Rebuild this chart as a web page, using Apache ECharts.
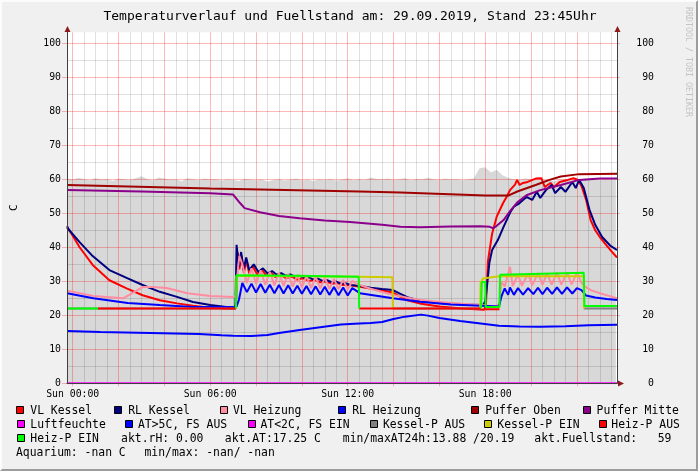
<!DOCTYPE html>
<html>
<head>
<meta charset="utf-8">
<script src="https://cdn.jsdelivr.net/npm/echarts/dist/echarts.min.js"></script>
<style>
html,body{margin:0;padding:0;background:#f0f0f0;}
#wrap{position:relative;width:698px;height:471px;}
#chart{position:absolute;left:0;top:0;width:698px;height:471px;}
#frame{position:absolute;left:0;top:0;width:694px;height:467px;border-top:2px solid #fcfcfc;border-left:2px solid #fcfcfc;border-right:2px solid #9c9c9c;border-bottom:2px solid #9c9c9c;pointer-events:none;}
</style>
</head>
<body>
<div id="wrap"><div id="chart"></div><div id="frame"></div></div>
<script>
// ---------------- DATA (time in hours of 29.09.2019, value) ----------------
const titleText = 'Temperaturverlauf und Fuellstand am: 29.09.2019, Stand 23:45Uhr';
const xTickHours = [0, 6, 12, 18];
const xTickDay = 'Sun';
const yUnit = 'C';

const fuellstand = [[-0.25,60.2],[0,59.9],[0.25,60.4],[0.5,60.0],[0.75,59.7],[1,60.3],[1.25,59.9],[1.5,60.1],[1.75,59.5],[2,60.2],[2.25,60.0],[2.5,59.8],[2.75,60.3],[3,60.9],[3.25,60.1],[3.5,59.6],[3.75,60.5],[4,60.2],[4.25,59.9],[4.5,60.0],[4.75,59.4],[5,60.3],[5.25,60.0],[5.5,59.7],[5.75,60.2],[6,59.9],[6.25,60.1],[6.5,59.6],[6.75,60.0],[7,59.8],[7.25,59.5],[7.5,60.1],[7.75,59.9],[8,59.7],[8.25,60.0],[8.5,59.3],[8.75,59.8],[9,60.0],[9.25,59.6],[9.5,59.9],[9.75,60.2],[10,59.7],[10.25,59.9],[10.5,59.5],[10.75,60.0],[11,59.8],[11.25,60.1],[11.5,59.6],[11.75,59.9],[12,60.3],[12.25,59.7],[12.5,60.0],[12.75,59.8],[13,60.5],[13.25,60.1],[13.5,59.9],[13.75,60.2],[14,59.8],[14.25,60.0],[14.5,60.3],[14.75,59.7],[15,60.1],[15.25,59.9],[15.5,60.4],[15.75,60.0],[16,59.8],[16.25,60.2],[16.5,59.9],[16.75,60.1],[17,59.7],[17.25,60.0],[17.5,60.2],[17.75,63.2],[18,63.5],[18.25,62.0],[18.5,62.8],[18.75,61.2],[19,60.4],[19.25,60.0],[19.5,59.8],[19.75,60.2],[20,59.9],[20.25,60.1],[20.5,59.6],[20.75,60.0],[21,59.3],[21.25,59.9],[21.5,60.1],[21.75,59.7],[22,60.0],[22.25,59.8],[22.5,60.2],[22.75,59.9],[23,59.7],[23.25,60.0],[23.5,59.8],[23.7,59.9]];

const vlKessel = [[-0.25,45.8],[-0.1,44.5],[0.3,40.0],[0.87,34.8],[1.6,30.3],[2.35,27.9],[3.05,25.9],[3.8,24.4],[4.55,23.5],[5.25,22.8],[6.0,22.2],[7.0,21.9],[7.1,22.0],[7.13,24],[7.2,38.5],[7.27,33.5],[7.37,37.5],[7.47,32.5],[7.58,36.2],[7.7,32.3],[7.85,34.5],[8.05,32.0],[8.25,33.5],[8.45,31.6],[8.65,32.6],[8.85,31.2],[9.05,32.0],[9.3,30.9],[9.55,31.4],[9.8,30.5],[10.05,30.9],[10.3,30.1],[10.55,30.4],[10.8,29.7],[11.05,29.9],[11.3,29.3],[11.55,29.5],[11.8,28.9],[12.05,29.0],[12.3,28.6],[12.53,28.4],[13.0,27.9],[13.5,27.3],[13.97,26.7],[14.3,25.4],[14.6,24.4],[15.2,23.4],[16.0,22.6],[17.0,22.0],[17.95,21.6],[18.03,23],[18.12,36],[18.3,44],[18.5,49],[18.78,53],[18.95,55],[19.08,56.8],[19.3,58.4],[19.39,59.8],[19.5,58.3],[19.65,58.9],[19.85,59.2],[20.2,60.2],[20.45,60.3],[20.6,57.7],[20.85,58.9],[21.0,57.7],[21.25,59.2],[21.6,59.8],[21.85,60.3],[22.05,59.8],[22.2,58],[22.4,54],[22.6,48],[22.8,45],[23.0,43],[23.3,40.5],[23.55,38.5],[23.75,37.0]];

const rlKessel = [[-0.25,46.2],[-0.15,45],[0.3,41.5],[0.87,37.4],[1.6,33.3],[2.35,31.0],[3.05,28.9],[3.8,26.9],[4.55,25.4],[5.25,23.9],[6.0,23.0],[6.7,22.4],[7.0,22.1],[7.1,22.3],[7.15,40.7],[7.25,34.2],[7.35,38.6],[7.45,33.3],[7.57,37.0],[7.7,33.3],[7.9,35.0],[8.1,32.7],[8.3,33.8],[8.5,32.3],[8.7,33.0],[8.9,31.9],[9.1,32.4],[9.3,31.6],[9.5,32.0],[9.7,31.3],[9.9,31.6],[10.1,31.0],[10.3,31.2],[10.5,30.5],[10.7,30.8],[10.9,30.1],[11.1,30.3],[11.3,29.7],[11.5,29.9],[11.7,29.3],[11.9,29.4],[12.1,28.9],[12.5,28.7],[13.0,28.1],[13.5,27.7],[13.97,27.4],[14.3,26.3],[14.6,25.3],[15.2,24.2],[16.0,23.6],[17.0,23.2],[17.9,23.0],[18.0,24.0],[18.1,30],[18.18,35.4],[18.3,39.2],[18.55,42.1],[18.8,46],[19.1,50.4],[19.25,51.9],[19.5,53],[19.8,54.8],[20.05,53.9],[20.25,56.3],[20.4,54.5],[20.65,56.8],[20.9,58.3],[21.05,55.9],[21.3,57.7],[21.5,56.3],[21.8,59.2],[21.95,57.4],[22.1,59.8],[22.3,57.4],[22.55,51],[22.8,46.6],[23.1,43],[23.45,40.5],[23.75,39.2]];

const vlHeizung = [[-0.25,27.2],[0.9,25.7],[2.2,25.0],[2.6,26.5],[3.05,28.3],[3.5,28.3],[4.1,28.0],[5.0,26.5],[6.0,25.7],[7.0,25.4],[7.12,25.6],[7.2,33],[7.27,37.5],[7.4,35],[7.6,29.5],[7.8,33.8],[8.0,29.2],[8.2,33.2],[8.4,29.0],[8.6,32.8],[8.8,28.8],[9.0,32.5],[9.2,28.6],[9.4,32.2],[9.6,28.4],[9.8,31.9],[10.0,28.2],[10.2,31.6],[10.4,28.0],[10.6,31.3],[10.8,27.9],[11.0,31.0],[11.2,27.8],[11.4,30.7],[11.6,27.7],[11.8,30.4],[12.0,27.6],[12.2,30.1],[12.4,29.2],[12.53,28.9],[13.0,27.8],[13.97,26.0],[15.15,24.5],[16.5,23.6],[17.8,23.0],[18.4,22.6],[18.62,23.0],[18.7,29.8],[18.85,28.5],[19.08,34.2],[19.2,28.6],[19.43,32.0],[19.6,28.7],[19.87,32.3],[20.05,28.8],[20.3,32.4],[20.5,28.9],[20.7,32.4],[20.9,29.0],[21.13,32.5],[21.32,29.0],[21.57,32.6],[21.77,29.1],[22.0,32.6],[22.2,29.5],[22.35,28.5],[22.6,27.4],[23.0,26.5],[23.4,25.7],[23.75,25.0]];

const rlHeizung = [[-0.25,26.5],[0.9,25.0],[2.4,23.6],[3.8,23.0],[5.25,22.4],[7.0,22.4],[7.15,22.6],[7.25,24.5],[7.4,29.5],[7.6,26.8],[7.8,29.3],[8.0,26.7],[8.2,29.2],[8.4,26.6],[8.6,29.0],[8.8,26.5],[9.0,28.9],[9.2,26.4],[9.4,28.8],[9.6,26.4],[9.8,28.7],[10.0,26.3],[10.2,28.6],[10.4,26.2],[10.6,28.5],[10.8,26.1],[11.0,28.4],[11.2,26.0],[11.4,28.3],[11.6,25.9],[11.8,28.2],[12.0,25.8],[12.2,28.0],[12.53,26.5],[13.97,25.0],[15.15,24.0],[16.5,23.2],[17.8,22.8],[18.6,22.6],[18.7,25.4],[18.85,27.9],[19.0,26.0],[19.08,28.2],[19.25,26.0],[19.43,28.0],[19.65,26.1],[19.87,28.0],[20.1,26.2],[20.3,28.1],[20.5,26.2],[20.7,28.1],[20.92,26.3],[21.13,28.2],[21.35,26.3],[21.57,28.2],[21.8,26.4],[22.0,28.0],[22.2,27.4],[22.4,25.8],[22.8,25.2],[23.3,24.8],[23.75,24.5]];

const pufferOben = [[-0.25,58.3],[6,57.3],[12.5,56.4],[14.3,56.1],[18,55.2],[19.0,55.2],[19.4,56.4],[20.2,58.3],[20.8,59.8],[21.3,60.8],[22.1,61.5],[23.75,61.6]];

const pufferMitte = [[-0.25,56.8],[3,56.4],[6,55.9],[7.0,55.5],[7.07,55.2],[7.3,53],[7.5,51.5],[8.17,50.3],[9.0,49.2],[9.9,48.5],[11,47.9],[12.1,47.4],[13.5,46.6],[14.3,46.0],[15.15,45.9],[16.5,46.1],[17.8,46.2],[18.2,46.0],[18.35,45.6],[18.5,46.3],[18.8,48.0],[19.1,50.8],[19.4,53.2],[19.8,55.3],[20.4,56.8],[21.3,58.3],[22.1,59.8],[23.0,60.2],[23.75,60.2]];

const luftfeuchte = [[-0.25,0],[23.75,0]];

const aussenTemp = [[-0.25,15.4],[1.2,15.1],[3.4,14.8],[5.5,14.5],[6.5,14.1],[7.0,13.95],[7.8,13.88],[8.5,14.2],[9.0,14.8],[9.9,15.7],[10.8,16.5],[11.7,17.3],[12.5,17.6],[13.0,17.7],[13.5,18.0],[14.0,18.9],[14.5,19.6],[15.2,20.19],[15.5,19.9],[16.0,19.2],[16.9,18.3],[17.8,17.6],[18.6,16.9],[19.5,16.7],[20.4,16.6],[21.5,16.8],[22.5,17.1],[23.75,17.25]];

const kesselPAus = [[-0.25,22.0],[7.12,22.0],[7.12,null],[13.97,22.0],[17.78,22.0],[17.78,null],[22.3,22.0],[23.75,22.0]];
const kesselPEin = [[7.12,22.0],[7.14,31.6],[12.5,31.3],[13.95,31.2],[13.97,22.0],[13.97,null],[17.78,22.0],[17.8,29.5],[17.9,30.8],[18.6,31.5],[22.3,31.5],[22.31,22.0]];
const heizPAus = [[1.1,22.0],[7.12,22.0],[7.12,null],[12.5,22.0],[17.82,22.0],[17.82,null],[18.0,21.8],[18.62,21.8]];
const heizPEin = [[-0.25,22.0],[1.1,22.0],[1.1,null],[7.12,22.0],[7.15,31.8],[9.8,31.6],[12.48,31.3],[12.5,22.0],[12.5,null],[17.82,22.0],[17.85,29.8],[18.0,29.8],[18.02,22.4],[18.62,22.4],[18.65,31.9],[20.5,32.2],[22.3,32.5],[22.33,22.7],[23.75,22.7]];

const legendRows = [
  [['VL Kessel','#ff0000'],['RL Kessel','#000080'],['VL Heizung','#ff8ca0'],['RL Heizung','#0000ff'],['Puffer Oben','#a00000'],['Puffer Mitte','#8b008b']],
  [['Luftfeuchte','#ff00ff'],['AT>5C, FS AUS','#0000ff'],['AT<2C, FS EIN','#ff00ff'],['Kessel-P AUS','#808080'],['Kessel-P EIN','#cccc00'],['Heiz-P AUS','#ff0000']],
  [['Heiz-P EIN','#00ff00']]
];
const statTexts = ['akt.rH: 0.00', 'akt.AT:17.25 C', 'min/maxAT24h:13.88 /20.19', 'akt.Fuellstand:   59'];
const aquariumTexts = ['Aquarium: -nan C', 'min/max: -nan/ -nan'];
const watermark = 'RRDTOOL / TOBI OETIKER';

// ---------------- LAYOUT ----------------
const FONT = '"DejaVu Sans Mono", monospace';
const PL = 67, PW = 550, PT = 32.3, PB = 383.3;
const PXH = PW / 24;
const X0 = -0.25, X1 = 23.75;
const YMAX = 103.2;
const gridLeft0 = PL + (0 - X0) * PXH;

const chart = echarts.init(document.getElementById('chart'), null, {renderer: 'canvas'});

function lineSeries(name, data, color, z, width) {
  return {
    name: name, type: 'line', data: data, xAxisIndex: 0, yAxisIndex: 0,
    showSymbol: false, symbol: 'none', connectNulls: false, z: z,
    lineStyle: {color: color, width: width || 2}, itemStyle: {color: color},
    animation: false, silent: true
  };
}

const series = [
  {name: 'Fuellstand', type: 'line', data: fuellstand, xAxisIndex: 0, yAxisIndex: 0, showSymbol: false, symbol: 'none', z: 1,
   lineStyle: {width: 0, color: '#d8d8d8'}, areaStyle: {color: '#d8d8d8', opacity: 1}, animation: false, silent: true},
  lineSeries('VL Kessel', vlKessel, '#ff0000', 3),
  lineSeries('RL Kessel', rlKessel, '#000080', 3),
  lineSeries('VL Heizung', vlHeizung, '#ff8ca0', 3),
  lineSeries('RL Heizung', rlHeizung, '#0000ff', 3),
  lineSeries('Puffer Oben', pufferOben, '#a00000', 3),
  lineSeries('Puffer Mitte', pufferMitte, '#8b008b', 3),
  lineSeries('Luftfeuchte', luftfeuchte, '#ff00ff', 3),
  lineSeries('AT>5C, FS AUS', aussenTemp, '#0000ff', 3),
  lineSeries('Kessel-P AUS', kesselPAus, '#808080', 3),
  lineSeries('Kessel-P EIN', kesselPEin, '#cccc00', 3),
  lineSeries('Heiz-P AUS', heizPAus, '#ff0000', 3),
  lineSeries('Heiz-P EIN', heizPEin, '#00ff00', 3)
];

const hidden = {axisLine:{show:false}, axisTick:{show:false}, axisLabel:{show:false}, splitLine:{show:false}};
const gridRed = 'rgba(255,0,0,0.28)';
const gridGrey = 'rgba(0,0,0,0.12)';

function pad2(n){ return (n < 10 ? '0' : '') + n; }

// graphic elements (title, legend, texts, arrows)
const graphics = [];
graphics.push({type:'text', x: 350, y: 17, z: 10, style:{text: titleText, font: '13px ' + FONT, fill:'#000', align:'center', verticalAlign:'middle'}});
graphics.push({type:'text', x: 14, y: 207.8, rotation: Math.PI/2, z: 10, style:{text: yUnit, font: '11px ' + FONT, fill:'#000', align:'center', verticalAlign:'middle'}});
graphics.push({type:'text', x: 688, y: 62, rotation: -Math.PI/2, z: 10, style:{text: watermark, font: '8.3px ' + FONT, fill:'#c4c4c4', align:'center', verticalAlign:'middle'}});
// axis arrows
const arrowColor = '#8b1a1a';
graphics.push({type:'polygon', z: 10, shape:{points:[[67.5,26],[64.5,32],[70.5,32]]}, style:{fill: arrowColor}});
graphics.push({type:'polygon', z: 10, shape:{points:[[617.5,26],[614.5,32],[620.5,32]]}, style:{fill: arrowColor}});
graphics.push({type:'polygon', z: 10, shape:{points:[[624,383.5],[618,380.5],[618,386.5]]}, style:{fill: arrowColor}});

// legend layout
const rowY = [411, 425, 439, 453];
const sqX = [[16,114.4,220,338.4,471,583.3],[16.9,125.1,247.6,370.4,484.4,598.8],[16.5]];
const txX = [[30.3,128.2,232.9,352.2,485.3,596.6],[30.3,138,260.5,382.9,497.3,611.3],[30.3]];
const LFONT = '11.4px ' + FONT;
legendRows.forEach(function(row, r){
  row.forEach(function(item, i){
    graphics.push({type:'rect', z: 10, shape:{x: Math.round(sqX[r][i]) + 0.5, y: rowY[r] - 4.5, width: 7, height: 7}, style:{fill: item[1], stroke:'#000', lineWidth: 1}});
    graphics.push({type:'text', z: 10, x: txX[r][i], y: rowY[r], style:{text: item[0], font: LFONT, fill:'#000', align:'left', verticalAlign:'middle'}});
  });
});
const statX = [121.1, 224.8, 342.8, 534.3];
statTexts.forEach(function(t, i){
  graphics.push({type:'text', z: 10, x: statX[i], y: rowY[2], style:{text: t, font: LFONT, fill:'#000', align:'left', verticalAlign:'middle'}});
});
const aqX = [16, 144.5];
aquariumTexts.forEach(function(t, i){
  graphics.push({type:'text', z: 10, x: aqX[i], y: rowY[3], style:{text: t, font: LFONT, fill:'#000', align:'left', verticalAlign:'middle'}});
});

const option = {
  animation: false,
  backgroundColor: '#f0f0f0',
  textStyle: {fontFamily: FONT},
  grid: [
    {left: PL, top: PT, width: PW, height: PB - PT, show: true, backgroundColor: '#ffffff', borderWidth: 0},
    {left: gridLeft0, top: PT, width: 24 * PXH, height: PB - PT},
    {left: gridLeft0, top: PT, width: 22 * PXH, height: PB - PT},
    {left: PL, top: 43.3, width: PW, height: PB - 43.3}
  ],
  xAxis: [
    Object.assign({}, hidden, {type:'value', gridIndex: 0, min: X0, max: X1, z: 4,
      axisLine:{show:true, onZero:false, lineStyle:{color:'#404040', width:1}}}),
    Object.assign({}, hidden, {type:'value', gridIndex: 1, min: 0, max: 24, interval: 2, z: 2,
      minorTick:{show:false, splitNumber:4}, minorSplitLine:{show:true, lineStyle:{color: gridGrey, width:1}}}),
    Object.assign({}, hidden, {type:'value', gridIndex: 2, min: 0, max: 22, interval: 2, z: 2,
      splitLine:{show:true, lineStyle:{color: gridRed, width:1}},
      axisTick:{show:true, length:3, inside:false, lineStyle:{color: gridRed}},
      axisLabel:{show:true, margin: 6, fontSize: 9.8, fontFamily: FONT, color:'#000',
        formatter: function(v){ return xTickHours.indexOf(v) >= 0 ? xTickDay + ' ' + pad2(v) + ':00' : ''; }}}),
    Object.assign({}, hidden, {type:'value', gridIndex: 3, min: 0, max: 1, show: false})
  ],
  yAxis: [
    Object.assign({}, hidden, {type:'value', gridIndex: 0, min: 0, max: YMAX, z: 4,
      axisLine:{show:true, onZero:false, lineStyle:{color:'#404040', width:1}}}),
    Object.assign({}, hidden, {type:'value', gridIndex: 0, min: 0, max: YMAX, position:'right', z: 4,
      axisLine:{show:true, onZero:false, lineStyle:{color:'#404040', width:1}}}),
    Object.assign({}, hidden, {type:'value', gridIndex: 1, min: 0, max: 1, show: false}),
    Object.assign({}, hidden, {type:'value', gridIndex: 2, min: 0, max: 1, show: false}),
    Object.assign({}, hidden, {type:'value', gridIndex: 3, min: 0, max: 100, interval: 10, z: 2,
      splitLine:{show:true, lineStyle:{color: gridRed, width:1}},
      minorTick:{show:false, splitNumber:2}, minorSplitLine:{show:true, lineStyle:{color: gridGrey, width:1}},
      axisTick:{show:true, length:5, lineStyle:{color: gridRed}},
      axisLabel:{show:true, margin: 6, fontSize: 9.8, fontFamily: FONT, color:'#000'}}),
    Object.assign({}, hidden, {type:'value', gridIndex: 3, min: 0, max: 100, interval: 10, position:'right', z: 2,
      axisTick:{show:true, length:3, lineStyle:{color: gridRed}},
      axisLabel:{show:true, margin: 37, align:'right', fontSize: 9.8, fontFamily: FONT, color:'#000'}})
  ],
  series: series,
  graphic: graphics
};
chart.setOption(option);
</script>
</body>
</html>
